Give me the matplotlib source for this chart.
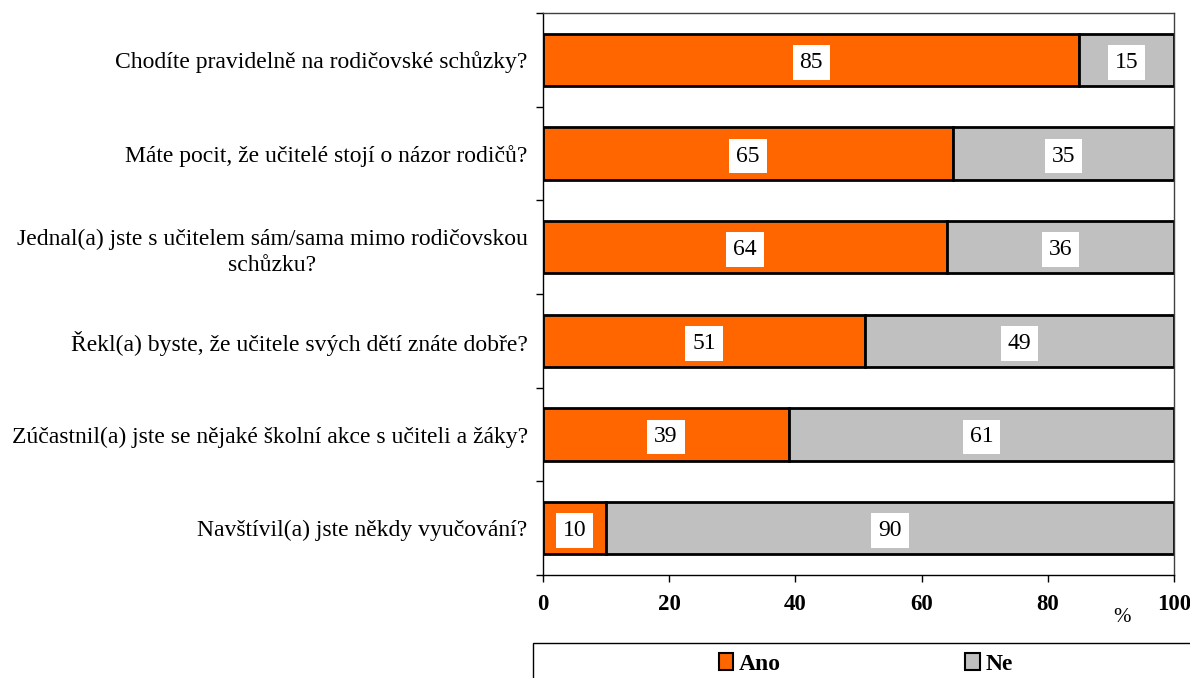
import numpy as np
import matplotlib.pyplot as plt
from matplotlib.patches import Rectangle, Patch

plt.rcParams["font.family"] = ["Liberation Serif", "DejaVu Serif"]

questions = [
    "Chodíte pravidelně na rodičovské schůzky?",
    "Máte pocit, že učitelé stojí o názor rodičů?",
    "Jednal(a) jste s učitelem sám/sama mimo rodičovskou\nschůzku?",
    "Řekl(a) byste, že učitele svých dětí znáte dobře?",
    "Zúčastnil(a) jste se nějaké školní akce s učiteli a žáky?",
    "Navštívil(a) jste někdy vyučování?",
]
ano = [85, 65, 64, 51, 39, 10]
ne = [15, 35, 36, 49, 61, 90]

orange = "#FF6600"
gray = "#C0C0C0"

fig = plt.figure(figsize=(11.9, 6.78), dpi=100)
ax = fig.add_axes([543 / 1190, 1 - 575 / 678, (1174 - 543) / 1190, (575 - 13) / 678])

y = np.arange(len(questions))[::-1]
ax.barh(y, ano, height=0.56, color=orange, edgecolor="black", linewidth=2)
ax.barh(y, ne, left=ano, height=0.56, color=gray, edgecolor="black", linewidth=2)

for yi, a, n in zip(y, ano, ne):
    for x, v in ((a / 2, a), (a + n / 2, n)):
        ax.text(x, yi, str(v), ha="center", va="center_baseline", fontsize=17,
                bbox=dict(facecolor="white", edgecolor="none", pad=5))

ax.set_xlim(0, 100)
ax.set_ylim(-0.5, len(questions) - 0.5)
ax.set_xticks(np.arange(0, 101, 20))
ax.tick_params(axis="x", direction="out", length=5, width=1, pad=9, labelsize=16.5)
for lbl in ax.get_xticklabels():
    lbl.set_fontweight("bold")

ax.set_yticks(y)
ax.set_yticklabels(questions, fontsize=17, multialignment="center", linespacing=1.3)
ax.set_yticks(np.arange(-0.5, len(questions), 1), minor=True)
ax.tick_params(axis="y", which="major", length=0, pad=11)
ax.tick_params(axis="y", which="minor", direction="out", length=5, width=1)

for side in ("top", "right"):
    ax.spines[side].set_color("#404040")
    ax.spines[side].set_linewidth(1)
ax.spines["left"].set_linewidth(1)
ax.spines["bottom"].set_linewidth(1)

fig.text(1122 / 1190, 1 - 618 / 678, "%", ha="center", va="center", fontsize=15)

fig.patches.append(Rectangle((533 / 1190, -0.05), 0.6, 0.05 + (678 - 643) / 678,
                             transform=fig.transFigure, facecolor="white",
                             edgecolor="black", linewidth=1))
handles = [Patch(facecolor=orange, edgecolor="black", linewidth=1.5),
           Patch(facecolor=gray, edgecolor="black", linewidth=1.5)]
fig.legend(handles, ["Ano", "Ne"], loc="center", ncol=2, frameon=False,
           bbox_to_anchor=(866 / 1190, 1 - 664 / 678),
           prop={"weight": "bold", "size": 17}, handlelength=0.6, handleheight=0.7,
           handletextpad=0.25, columnspacing=7.8, borderpad=0, borderaxespad=0)

fig.savefig("out.png", dpi=100)
